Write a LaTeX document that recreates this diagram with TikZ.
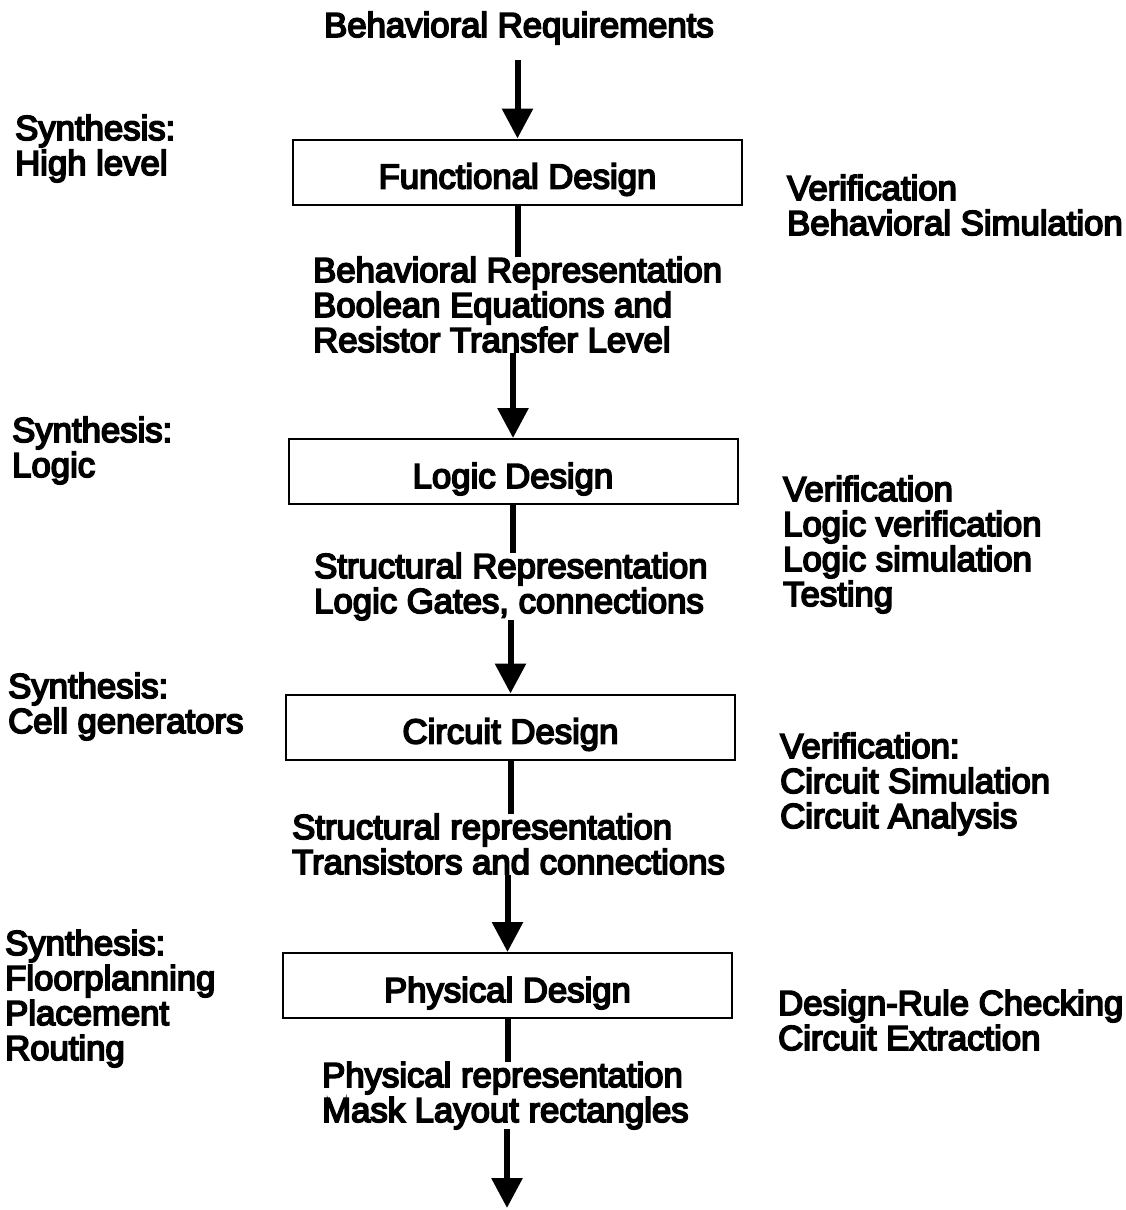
\documentclass[tikz,border=0pt]{standalone}
\usepackage{fontspec}
\newfontfamily\diafont{Liberation Sans}[FakeBold=5]
\usetikzlibrary{arrows.meta}
\begin{document}
\begin{tikzpicture}[x=1pt,y=-1pt,
  txt/.style={font=\diafont\fontsize{34.7}{35}\selectfont, inner sep=0pt, align=left, anchor=base west},
  stage/.style={draw, line width=2pt, minimum width=449pt, minimum height=65pt, inner sep=0pt,
    text height=33pt, text depth=0pt, font=\diafont\fontsize{34.7}{35}\selectfont},
  flow/.style={line width=6pt},
  arr/.style={flow, -{Triangle[width=30pt,length=30pt]}}]
\useasboundingbox (0,0) rectangle (1126,1210);

% title
\node[txt, anchor=base, inner ysep=16pt] (req) at (519,37) {Behavioral Requirements};

% stages
\node[stage] (fd) at (517.5,172) {Functional Design};
\node[stage] (ld) at (513,471.5) {Logic Design};
\node[stage] (cd) at (510.5,727) {Circuit Design};
\node[stage] (pd) at (507.5,985.5) {Physical Design};

% representations (anchor = baseline of last line)
\node[txt] (c1) at (313,352) {Behavioral Representation\\Boolean Equations and\\Resistor Transfer Level};
\node[txt] (c2) at (314,613) {Structural Representation\\Logic Gates, connections};
\node[txt] (c3) at (292,874) {Structural representation\\Transistors and connections};
\node[txt] (c4) at (322,1122) {Physical representation\\Mask Layout rectangles};

% synthesis (left)
\node[txt] (s1) at (15,175) {Synthesis:\\High level};
\node[txt] (s2) at (12,477) {Synthesis:\\Logic};
\node[txt] (s3) at (8,733) {Synthesis:\\Cell generators};
\node[txt] (s4) at (5,1060) {Synthesis:\\Floorplanning\\Placement\\Routing};

% verification (right)
\node[txt] (v1) at (787,235) {Verification\\Behavioral Simulation};
\node[txt] (v2) at (783,606) {Verification\\Logic verification\\Logic simulation\\Testing};
\node[txt] (v3) at (780,828) {Verification:\\Circuit Simulation\\Circuit Analysis};
\node[txt] (v4) at (778,1050) {Design-Rule Checking\\Circuit Extraction};

\coordinate (end) at (507,1208);

% connectors
\draw[arr] (fd.north |- req.south) -- (fd.north);
\draw[flow] (fd.south) -- (fd.south |- c1.north);
\draw[arr] (ld.north |- c1.south) -- (ld.north);
\draw[flow] (ld.south) -- (ld.south |- c2.north);
\draw[arr] (cd.north |- c2.south) -- (cd.north);
\draw[flow] (cd.south) -- (cd.south |- c3.north);
\draw[arr] (pd.north |- c3.south) -- (pd.north);
\draw[flow] (pd.south) -- (pd.south |- c4.north);
\draw[arr] (end |- c4.south) -- (end);
\end{tikzpicture}
\end{document}
